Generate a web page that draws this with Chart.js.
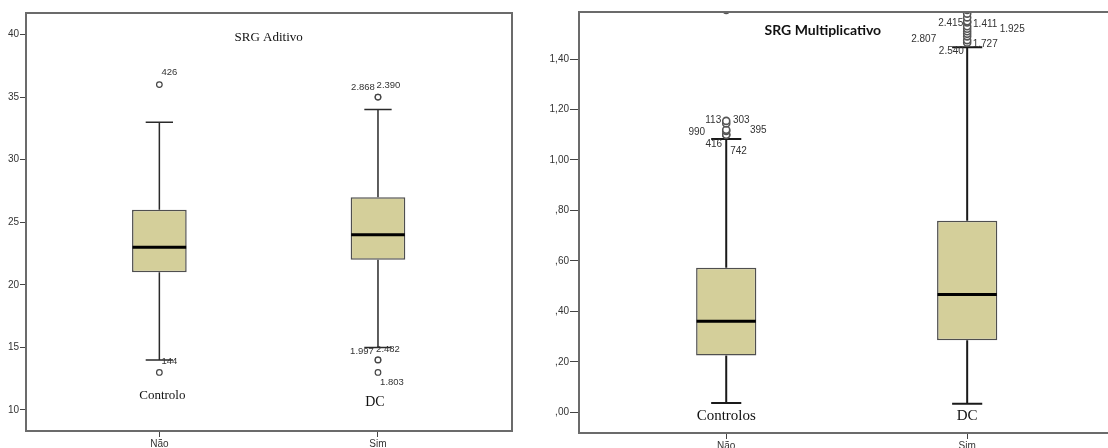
<!DOCTYPE html>
<html>
<head>
<meta charset="utf-8">
<script src="https://cdn.jsdelivr.net/npm/chart.js@4.4.1/dist/chart.umd.min.js"></script>
<style>
  html, body { margin: 0; padding: 0; background: #fff; }
  body { position: relative; width: 1108px; height: 448px; overflow: hidden; }
  #wrapAditivo { position: absolute; left: 0; top: 0; }
  #wrapMult { position: absolute; left: 540px; top: 0; }
</style>
</head>
<body>
<div id="wrapAditivo"><canvas id="aditivo" width="520" height="448"></canvas></div>
<div id="wrapMult"><canvas id="mult" width="580" height="448"></canvas></div>
<script>
// ---- Groups (x axis) ----
const groups = ['Não', 'Sim'];
const groupPos = [1, 2];

// ---- SRG Aditivo: five-number summaries per group ----
const aditivoMin    = [14, 15];
const aditivoQ1     = [21, 22];
const aditivoMedian = [23, 24];
const aditivoQ3     = [26, 27];
const aditivoMax    = [33, 34];
const aditivoOutlierGroup = [0, 0, 1, 1, 1, 1, 1];
const aditivoOutlierValue = [36, 13, 35, 35, 14, 14, 13];
const aditivoOutlierCase  = ['426', '144', '2.868', '2.390', '1.997', '2.482', '1.803'];
const aditivoTicks      = [10, 15, 20, 25, 30, 35, 40];
const aditivoTickLabels = ['10', '15', '20', '25', '30', '35', '40'];
const aditivoGroupNames = ['Controlo', 'DC'];

// ---- SRG Multiplicativo ----
const multMin    = [0.037, 0.034];
const multQ1     = [0.225, 0.286];
const multMedian = [0.361, 0.467];
const multQ3     = [0.573, 0.759];
const multMax    = [1.083, 1.447];
const multOutlierGroup = [0, 0, 0, 0, 0, 0, 0,
                          1, 1, 1, 1, 1, 1, 1, 1, 1, 1, 1, 1];
const multOutlierValue = [1.100, 1.100, 1.115, 1.120, 1.145, 1.155, 1.595,
                          1.465, 1.475, 1.490, 1.500, 1.510, 1.520, 1.530,
                          1.545, 1.550, 1.565, 1.580, 1.595];
const multOutlierCase  = ['416', '742', '990', '395', '113', '303', '',
                          '2.540', '1.727', '', '2.807', '', '1.925', '',
                          '2.415', '1.411', '', '', ''];
const multTicks      = [0, 0.2, 0.4, 0.6, 0.8, 1.0, 1.2, 1.4];
const multTickLabels = [',00', ',20', ',40', ',60', ',80', '1,00', '1,20', '1,40'];
const multGroupNames = ['Controlos', 'DC'];

// ---- Layout: case-label offsets (px) from each outlier marker ----
const aditivoCaseOffset = [[10, -12], [10, -11], [-15, -10], [10.5, -11.6], [-16, -9], [10, -10.7], [14, 10]];
const multCaseOffset = [[-12.5, 9.5], [12.3, 16], [-29.5, 1.3], [32, 1], [-13, -3.5], [15, -1], [0, 0],
                        [-15.8, 9], [18, 4], [0, 0], [-43.5, 5], [0, 0], [45, 0], [0, 0],
                        [-16.5, 1], [18, 3], [0, 0], [0, 0], [0, 0]];

const frameColor = '#6b6b6b';
const tickFont = { family: "'Liberation Sans', Arial, sans-serif", size: 10 };
const textColor = '#333';

function makeBoxDecor(cfg) {
  return {
    id: 'boxDecor',
    beforeDatasetsDraw(chart) {
      const { ctx, scales: { x, y } } = chart;
      const bars = chart.getDatasetMeta(0).data;
      ctx.save();
      ctx.strokeStyle = cfg.whiskerColor;
      ctx.lineWidth = cfg.whiskerWidth;
      bars.forEach((bar, i) => {
        const cx = x.getPixelForValue(groupPos[i]);
        const half = bar.width / 4;
        const yMin = y.getPixelForValue(cfg.min[i]);
        const yMax = y.getPixelForValue(cfg.max[i]);
        const yQ1 = y.getPixelForValue(cfg.q1[i]);
        const yQ3 = y.getPixelForValue(cfg.q3[i]);
        ctx.beginPath();
        ctx.moveTo(cx, yQ3); ctx.lineTo(cx, yMax);
        ctx.moveTo(cx - half, yMax); ctx.lineTo(cx + half, yMax);
        ctx.moveTo(cx, yQ1); ctx.lineTo(cx, yMin);
        ctx.moveTo(cx - half, yMin); ctx.lineTo(cx + half, yMin);
        ctx.stroke();
      });
      ctx.restore();
    },
    afterDatasetsDraw(chart) {
      const { ctx, chartArea, scales: { x, y } } = chart;
      const bars = chart.getDatasetMeta(0).data;
      ctx.save();
      // medians
      ctx.strokeStyle = '#000';
      ctx.lineWidth = 3;
      bars.forEach((bar, i) => {
        const ym = y.getPixelForValue(cfg.median[i]);
        ctx.beginPath();
        ctx.moveTo(bar.x - bar.width / 2 + 0.5, ym);
        ctx.lineTo(bar.x + bar.width / 2 - 0.5, ym);
        ctx.stroke();
      });
      // case labels of outliers
      ctx.fillStyle = textColor;
      ctx.font = cfg.caseFont;
      ctx.textAlign = 'center';
      ctx.textBaseline = 'middle';
      cfg.outlierCase.forEach((label, i) => {
        if (!label) return;
        const px = x.getPixelForValue(groupPos[cfg.outlierGroup[i]]) + cfg.caseOffset[i][0];
        const py = y.getPixelForValue(cfg.outlierValue[i]) + cfg.caseOffset[i][1];
        ctx.fillText(label, px, py);
      });
      // group names inside the plot
      ctx.fillStyle = '#111';
      cfg.groupNames.forEach((name, i) => {
        ctx.font = cfg.groupFonts[i];
        const px = x.getPixelForValue(groupPos[i]) + cfg.groupNameDx[i];
        ctx.fillText(name, px, chartArea.bottom - cfg.groupNameRise[i]);
      });
      // title
      ctx.font = cfg.titleFont;
      ctx.fillStyle = '#111';
      ctx.fillText(cfg.title, x.getPixelForValue(cfg.titleX), chartArea.top + cfg.titleDrop);
      ctx.restore();
    },
    afterDraw(chart) {
      const { ctx, chartArea } = chart;
      ctx.save();
      ctx.strokeStyle = frameColor;
      ctx.lineWidth = 2;
      ctx.beginPath();
      ctx.moveTo(chartArea.left, chartArea.top);
      ctx.lineTo(chartArea.right, chartArea.top);
      if (cfg.rightBorder) ctx.lineTo(chartArea.right, chartArea.bottom);
      ctx.stroke();
      ctx.restore();
    }
  };
}

function buildChart(canvasId, d) {
  return new Chart(document.getElementById(canvasId), {
    data: {
      datasets: [
        {
          type: 'bar',
          data: groupPos.map((gx, i) => ({ x: gx, y: [d.q1[i], d.q3[i]] })),
          backgroundColor: '#D4CF9A',
          borderColor: '#4f4f4f',
          borderWidth: 1.5,
          borderSkipped: false,
          categoryPercentage: 1,
          barPercentage: 0.25,
          grouped: false
        },
        {
          type: 'scatter',
          data: d.outlierGroup.map((g, i) => ({ x: groupPos[g], y: d.outlierValue[i] })),
          pointRadius: d.pointRadius,
          pointBackgroundColor: '#fff',
          pointBorderColor: d.pointColor,
          pointBorderWidth: d.pointBorder,
          clip: 0
        }
      ]
    },
    options: {
      responsive: false,
      animation: false,
      events: [],
      layout: { padding: { top: d.padTop, right: d.padRight, left: 0, bottom: 0 } },
      plugins: { legend: { display: false }, tooltip: { enabled: false }, title: { display: false } },
      scales: {
        x: {
          type: 'linear',
          min: d.xMin, max: d.xMax,
          offset: false,
          afterBuildTicks: s => { s.ticks = groupPos.map(v => ({ value: v })); },
          afterFit: s => { s.height = d.xAxisHeight; },
          ticks: { callback: (v, i) => groups[i], font: tickFont, color: textColor, padding: 1, maxRotation: 0, autoSkip: false },
          grid: { offset: false, drawOnChartArea: false, drawTicks: true, tickLength: 6, color: '#444', lineWidth: 1 },
          border: { display: true, color: frameColor, width: 2 }
        },
        y: {
          type: 'linear',
          min: d.yMin, max: d.yMax,
          afterBuildTicks: s => { s.ticks = d.ticks.map(v => ({ value: v })); },
          afterFit: s => { s.width = d.yAxisWidth; },
          ticks: { callback: (v, i) => d.tickLabels[i], font: tickFont, color: textColor, padding: 1, autoSkip: false },
          grid: { drawOnChartArea: false, drawTicks: true, tickLength: d.tickLen, color: '#444', lineWidth: 1 },
          border: { display: true, color: frameColor, width: 2 }
        }
      }
    },
    plugins: [makeBoxDecor(d.decor)]
  });
}

buildChart('aditivo', {
  q1: aditivoQ1, q3: aditivoQ3,
  outlierGroup: aditivoOutlierGroup, outlierValue: aditivoOutlierValue,
  ticks: aditivoTicks, tickLabels: aditivoTickLabels,
  xMin: 0.39, xMax: 2.613, yMin: 8.32, yMax: 41.72,
  padTop: 13, padRight: 8, xAxisHeight: 17, yAxisWidth: 26, tickLen: 6,
  pointRadius: 2.8, pointColor: '#444', pointBorder: 1.2,
  decor: {
    min: aditivoMin, q1: aditivoQ1, median: aditivoMedian, q3: aditivoQ3, max: aditivoMax,
    outlierGroup: aditivoOutlierGroup, outlierValue: aditivoOutlierValue,
    outlierCase: aditivoOutlierCase, caseOffset: aditivoCaseOffset,
    caseFont: "9.5px 'Liberation Sans', Arial, sans-serif",
    whiskerColor: '#2a2a2a', whiskerWidth: 1.5,
    groupNames: aditivoGroupNames,
    groupFonts: ["13px 'Liberation Serif', 'Times New Roman', serif", "14px 'Liberation Serif', 'Times New Roman', serif"],
    groupNameDx: [3, -3], groupNameRise: [35, 28.3],
    title: 'SRG Aditivo', titleFont: "13px 'Liberation Serif', 'Times New Roman', serif",
    titleX: 1.5, titleDrop: 24.7,
    rightBorder: true
  }
});

buildChart('mult', {
  q1: multQ1, q3: multQ3,
  outlierGroup: multOutlierGroup, outlierValue: multOutlierValue,
  ticks: multTicks, tickLabels: multTickLabels,
  xMin: 0.389, xMax: 2.611, yMin: -0.082, yMax: 1.5865,
  padTop: 12, padRight: 5, xAxisHeight: 15, yAxisWidth: 39, tickLen: 9,
  pointRadius: 3.5, pointColor: '#555', pointBorder: 1.6,
  decor: {
    min: multMin, q1: multQ1, median: multMedian, q3: multQ3, max: multMax,
    outlierGroup: multOutlierGroup, outlierValue: multOutlierValue,
    outlierCase: multOutlierCase, caseOffset: multCaseOffset,
    caseFont: "10px 'Liberation Sans', Arial, sans-serif",
    whiskerColor: '#1a1a1a', whiskerWidth: 2,
    groupNames: multGroupNames,
    groupFonts: ["15px 'Liberation Serif', 'Times New Roman', serif", "15px 'Liberation Serif', 'Times New Roman', serif"],
    groupNameDx: [0, 0], groupNameRise: [17, 17],
    title: 'SRG Multiplicativo', titleFont: "bold 14px Lato, 'Open Sans', sans-serif",
    titleX: 1.401, titleDrop: 18,
    rightBorder: false
  }
});
</script>
</body>
</html>
